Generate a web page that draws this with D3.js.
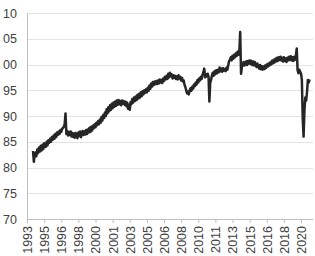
<!DOCTYPE html>
<html>
<head>
<meta charset="utf-8">
<script src="https://cdn.jsdelivr.net/npm/d3@7"></script>
<style>
  html, body { margin: 0; padding: 0; background: #fff; }
  svg { display: block; }
  text { font-family: "Liberation Sans", Arial, sans-serif; fill: #404040; }
</style>
</head>
<body>
<div id="chart"></div>
<script>
const WIDTH = 315;
const HEIGHT = 256;

// monthly series, Jan 1994 .. Dec 2020
const startYear = 1994;
const values = [
  83.2, 81.1, 82.6, 82.9, 82.2, 83.5, 82.8, 83.9, 83.1, 84.2, 83.3, 84.4, // 1994
  83.6, 84.7, 84.2, 84.0, 85.0, 84.3, 85.3, 84.8, 85.6, 85.0, 85.9, 85.4, // 1995
  86.2, 85.6, 86.5, 85.9, 86.8, 86.3, 87.0, 86.5, 87.3, 86.9, 87.5, 87.7, // 1996
  87.9, 88.5, 90.5, 86.5, 87.1, 86.2, 86.9, 86.3, 87.0, 86.0, 86.7, 85.9, // 1997
  86.6, 85.8, 86.7, 86.0, 85.7, 86.8, 86.1, 87.0, 85.9, 86.6, 87.1, 86.3, // 1998
  87.0, 86.4, 87.3, 86.5, 87.4, 86.8, 87.7, 86.9, 87.9, 87.2, 88.1, 87.6, // 1999
  88.4, 87.8, 88.7, 88.2, 89.0, 88.4, 89.3, 88.7, 89.8, 89.1, 90.2, 89.6, // 2000
  90.7, 90.0, 91.3, 90.5, 91.7, 90.9, 92.1, 91.2, 92.4, 91.5, 92.6, 91.8, // 2001
  92.8, 92.0, 93.0, 92.2, 93.1, 92.3, 92.9, 92.1, 93.0, 92.4, 92.9, 92.2, // 2002
  92.8, 91.9, 92.6, 91.4, 92.2, 91.2, 92.7, 92.3, 93.3, 92.6, 93.6, 92.9, // 2003
  93.8, 93.1, 94.1, 93.4, 94.3, 93.6, 94.6, 93.9, 94.8, 94.2, 95.0, 94.5, // 2004
  95.2, 94.6, 95.5, 94.9, 95.9, 95.3, 96.3, 95.7, 96.6, 96.0, 96.7, 96.2, // 2005
  96.8, 96.2, 96.9, 96.3, 97.1, 96.5, 97.0, 96.4, 97.3, 96.8, 97.6, 97.1, // 2006
  97.8, 97.2, 98.2, 97.5, 98.4, 97.7, 98.1, 97.3, 97.9, 97.4, 97.8, 97.2, // 2007
  97.7, 97.1, 97.9, 97.3, 97.6, 96.9, 97.4, 96.7, 96.9, 96.0, 95.6, 94.9, // 2008
  94.4, 94.7, 94.2, 95.0, 95.4, 94.9, 95.7, 95.3, 96.1, 95.8, 96.5, 96.1, // 2009
  97.0, 96.5, 97.3, 96.9, 97.6, 97.2, 98.0, 98.5, 99.2, 97.5, 98.1, 97.7, // 2010
  98.2, 97.6, 92.8, 96.5, 97.0, 97.9, 98.4, 97.8, 98.7, 98.1, 98.9, 98.3, // 2011
  99.0, 98.5, 99.4, 98.7, 99.2, 98.6, 99.3, 98.8, 99.1, 98.7, 99.4, 99.0, // 2012
  99.9, 100.7, 100.9, 101.4, 100.8, 101.7, 101.1, 101.9, 101.4, 102.2, 101.7, 102.5, // 2013
  101.9, 102.7, 106.3, 98.2, 99.6, 99.9, 100.5, 99.8, 100.3, 100.6, 99.9, 100.7, // 2014
  100.2, 100.8, 100.1, 100.7, 99.9, 100.6, 99.8, 100.5, 99.9, 99.5, 100.2, 99.6, // 2015
  99.2, 99.9, 99.1, 99.7, 99.0, 99.6, 99.1, 99.8, 99.3, 100.0, 99.6, 100.2, // 2016
  99.8, 100.4, 100.0, 100.7, 100.2, 100.9, 100.4, 101.1, 100.6, 101.3, 100.7, 101.4, // 2017
  100.9, 101.5, 100.8, 101.3, 100.6, 101.4, 100.7, 101.2, 100.5, 101.3, 100.8, 101.5, // 2018
  100.9, 101.6, 100.8, 101.4, 100.7, 101.5, 100.9, 101.7, 103.1, 98.9, 98.3, 99.0, // 2019
  98.6, 98.2, 97.0, 89.5, 86.0, 91.1, 93.6, 93.0, 94.7, 97.0, 96.5, 97.1  // 2020
];

// axis ticks: one every 20 months from Jun 1993
const xTickDates = [
  "1993-06", "1995-02", "1996-10", "1998-06", "2000-02", "2001-10",
  "2003-06", "2005-02", "2006-10", "2008-06", "2010-02", "2011-10",
  "2013-06", "2015-02", "2016-10", "2018-06", "2020-02"
];
const yTicks = [70, 75, 80, 85, 90, 95, 100, 105, 110];
// labels as printed on the chart (leading digit cut off for 100+)
const yTickLabels = ["70", "75", "80", "85", "90", "95", "00", "05", "10"];

const parseMonth = d3.timeParse("%Y-%m");
const data = values.map((v, i) => ({ date: new Date(startYear, i, 1), value: v }));

const margin = { top: 13, right: 2, bottom: 37, left: 27 };
const innerW = WIDTH - margin.left - margin.right;
const innerH = HEIGHT - margin.top - margin.bottom;

const x = d3.scaleTime()
  .domain([parseMonth("1993-06"), new Date(2021, 3, 1)])
  .range([0, innerW]);
const y = d3.scaleLinear().domain([70, 110]).range([innerH, 0]);

const svg = d3.select("#chart").append("svg")
  .attr("width", WIDTH)
  .attr("height", HEIGHT);

const g = svg.append("g").attr("transform", `translate(${margin.left},${margin.top})`);

// gridlines
g.append("g")
  .selectAll("line")
  .data(yTicks.filter(t => t > 70))
  .join("line")
  .attr("x1", 0)
  .attr("x2", innerW)
  .attr("y1", d => Math.round(y(d)) + 0.5)
  .attr("y2", d => Math.round(y(d)) + 0.5)
  .attr("stroke", "#e3e3e3")
  .attr("stroke-width", 1);

// y axis
const yAxis = g.append("g")
  .call(d3.axisLeft(y).tickValues(yTicks).tickSize(0).tickPadding(10)
    .tickFormat((d, i) => yTickLabels[i]));
yAxis.select(".domain").attr("stroke", "#bfbfbf").attr("d", `M0.5,0V${innerH}`);
yAxis.selectAll("text")
  .attr("font-size", "12.5px")
  .attr("fill", "#404040");

// x axis
const xAxis = g.append("g")
  .attr("transform", `translate(0,${innerH})`)
  .call(d3.axisBottom(x).tickValues(xTickDates.map(parseMonth)).tickSize(4).tickFormat(d3.timeFormat("%Y")));
xAxis.select(".domain").attr("stroke", "#bfbfbf").attr("d", `M0,0.5H${innerW}`);
xAxis.selectAll(".tick line").attr("stroke", "#bfbfbf");
xAxis.selectAll("text")
  .attr("font-size", "12.5px")
  .attr("fill", "#404040")
  .attr("text-anchor", "end")
  .attr("transform", "rotate(-90)")
  .attr("x", -7)
  .attr("y", 0)
  .attr("dy", "0.35em");

// series line
const line = d3.line()
  .x(d => x(d.date))
  .y(d => y(d.value));

g.append("path")
  .datum(data)
  .attr("fill", "none")
  .attr("stroke", "#262626")
  .attr("stroke-width", 2.5)
  .attr("stroke-linejoin", "round")
  .attr("d", line);
</script>
</body>
</html>
